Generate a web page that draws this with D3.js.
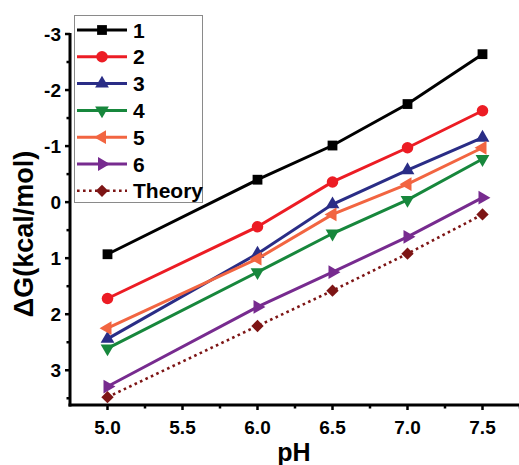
<!DOCTYPE html>
<html>
<head>
<meta charset="utf-8">
<script src="https://cdn.jsdelivr.net/npm/d3@7"></script>
<style>
  html, body { margin: 0; padding: 0; background: #fff; }
  svg { display: block; font-family: "Liberation Sans", Arial, sans-serif; font-weight: bold; }
</style>
</head>
<body>
<svg id="chart" width="519" height="465"></svg>
<script>
// pH values where binding free energy was measured
const pH = [5.0, 6.0, 6.5, 7.0, 7.5];

// ΔG (kcal/mol) for each compound, plus the theoretical curve
const dg1 = [0.93, -0.40, -1.01, -1.75, -2.64];
const dg2 = [1.72, 0.44, -0.36, -0.97, -1.63];
const dg3 = [2.44, 0.92, 0.04, -0.57, -1.15];
const dg4 = [2.61, 1.25, 0.56, -0.04, -0.77];
const dg5 = [2.25, 1.01, 0.22, -0.32, -0.97];
const dg6 = [3.29, 1.87, 1.25, 0.62, -0.08];
const dgTheory = [3.48, 2.21, 1.58, 0.92, 0.22];

const seriesNames = ["1", "2", "3", "4", "5", "6", "Theory"];
const xTicks = [5.0, 5.5, 6.0, 6.5, 7.0, 7.5];
const yTicks = [-3, -2, -1, 0, 1, 2, 3];

const series = [
  { name: seriesNames[0], values: dg1, color: "#000000", shape: "square" },
  { name: seriesNames[1], values: dg2, color: "#ec1c24", shape: "circle" },
  { name: seriesNames[2], values: dg3, color: "#2a2d86", shape: "up" },
  { name: seriesNames[3], values: dg4, color: "#17873c", shape: "down" },
  { name: seriesNames[4], values: dg5, color: "#f26541", shape: "left" },
  { name: seriesNames[5], values: dg6, color: "#772b8f", shape: "right" },
  { name: seriesNames[6], values: dgTheory, color: "#7d1515", shape: "diamond", dotted: true }
];

const svg = d3.select("#chart");

const x = d3.scaleLinear().domain([4.75, 7.75]).range([70, 520]);
// y is reversed: negative ΔG at the top
const y = d3.scaleLinear().domain([-3, 3.62]).range([34, 405]);

// marker generator for each shape
function marker(shape) {
  const tri = d3.symbol().type(d3.symbolTriangle).size(82);
  switch (shape) {
    case "square": return { d: d3.symbol().type(d3.symbolSquare).size(96)(), rot: 0 };
    case "circle": return { d: d3.symbol().type(d3.symbolCircle).size(104)(), rot: 0 };
    case "up": return { d: tri(), rot: 0 };
    case "down": return { d: tri(), rot: 180 };
    case "left": return { d: tri(), rot: -90 };
    case "right": return { d: tri(), rot: 90 };
    case "diamond": return { d: d3.symbol().type(d3.symbolSquare).size(76)(), rot: 45 };
  }
}

// axes
const yAxisG = svg.append("g").attr("transform", "translate(70,0)");
const xAxisG = svg.append("g").attr("transform", "translate(0,405)");

yAxisG.append("line").attr("x1", 0).attr("x2", 0)
  .attr("y1", y(-3) - 1).attr("y2", y.range()[1] + 1.5)
  .attr("stroke", "#000").attr("stroke-width", 3);
xAxisG.append("line").attr("x1", x.range()[0] - 1.5).attr("x2", 520)
  .attr("y1", 0).attr("y2", 0)
  .attr("stroke", "#000").attr("stroke-width", 3);

const yMinor = d3.range(-2.5, 3.6, 1);
const xMinor = d3.range(5.25, 7.76, 0.5);

yAxisG.selectAll(".ymaj").data(yTicks).join("line")
  .attr("x1", -5).attr("x2", 0)
  .attr("y1", d => y(d)).attr("y2", d => y(d))
  .attr("stroke", "#000").attr("stroke-width", 2.5);
yAxisG.selectAll(".ymin").data(yMinor).join("line")
  .attr("x1", -3.5).attr("x2", 0)
  .attr("y1", d => y(d)).attr("y2", d => y(d))
  .attr("stroke", "#000").attr("stroke-width", 2.5);
yAxisG.selectAll(".ylab").data(yTicks).join("text")
  .attr("x", -9).attr("y", d => y(d)).attr("dy", "0.36em")
  .attr("text-anchor", "end").attr("font-size", 19)
  .text(d => d);

xAxisG.selectAll(".xmaj").data(xTicks).join("line")
  .attr("x1", d => x(d)).attr("x2", d => x(d))
  .attr("y1", 0).attr("y2", 5)
  .attr("stroke", "#000").attr("stroke-width", 2.5);
xAxisG.selectAll(".xmin").data(xMinor).join("line")
  .attr("x1", d => x(d)).attr("x2", d => x(d))
  .attr("y1", 0).attr("y2", 3.5)
  .attr("stroke", "#000").attr("stroke-width", 2.5);
xAxisG.selectAll(".xlab").data(xTicks).join("text")
  .attr("x", d => x(d)).attr("y", 29)
  .attr("text-anchor", "middle").attr("font-size", 19)
  .text(d => d.toFixed(1));

// axis titles
svg.append("text").attr("x", 294).attr("y", 461)
  .attr("text-anchor", "middle").attr("font-size", 25).text("pH");
svg.append("text")
  .attr("transform", "translate(33,234) rotate(-90)")
  .attr("text-anchor", "middle").attr("font-size", 27).text("ΔG(kcal/mol)");

// series lines and markers
const line = d3.line().x(d => x(d[0])).y(d => y(d[1]));

series.forEach(s => {
  const pts = pH.map((p, i) => [p, s.values[i]]);
  svg.append("path").datum(pts)
    .attr("d", line)
    .attr("fill", "none")
    .attr("stroke", s.color)
    .attr("stroke-width", s.dotted ? 2.6 : 3)
    .attr("stroke-dasharray", s.dotted ? "2.6,3.4" : null);
  const m = marker(s.shape);
  svg.selectAll(null).data(pts).join("path")
    .attr("d", m.d)
    .attr("transform", d => `translate(${x(d[0])},${y(d[1])}) rotate(${m.rot})`)
    .attr("fill", s.color);
});

// legend
const legend = svg.append("g");
legend.append("rect").attr("x", 74.5).attr("y", 15.5)
  .attr("width", 128).attr("height", 187)
  .attr("fill", "#fff").attr("stroke", "#8a8a8a").attr("stroke-width", 1);

series.forEach((s, i) => {
  const ly = 30 + i * 26.8;
  legend.append("line").attr("x1", 77).attr("x2", 127)
    .attr("y1", ly).attr("y2", ly)
    .attr("stroke", s.color)
    .attr("stroke-width", s.dotted ? 2.6 : 3)
    .attr("stroke-dasharray", s.dotted ? "2.6,3.4" : null);
  const m = marker(s.shape);
  legend.append("path").attr("d", m.d)
    .attr("transform", `translate(102,${ly}) rotate(${m.rot})`)
    .attr("fill", s.color);
  legend.append("text").attr("x", 133).attr("y", ly).attr("dy", "0.36em")
    .attr("font-size", 21).text(s.name);
});
</script>
</body>
</html>
